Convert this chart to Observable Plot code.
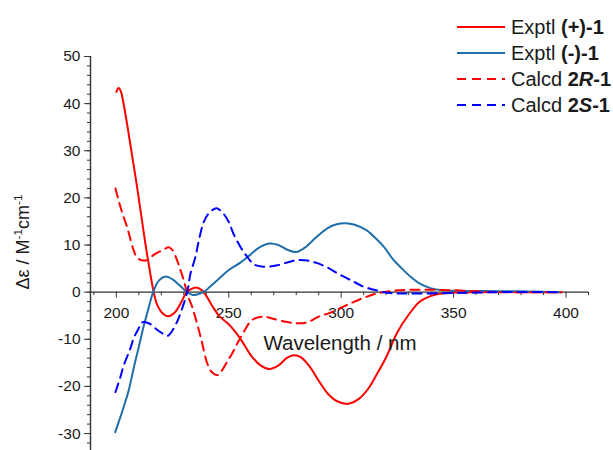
<!DOCTYPE html>
<html>
<head>
<meta charset="utf-8">
<script src="https://cdn.jsdelivr.net/npm/d3@7"></script>
<script src="https://cdn.jsdelivr.net/npm/@observablehq/plot@0.6"></script>
<style>
  body { margin: 0; background: #fff; }
  #wrap { position: relative; width: 613px; height: 450px; overflow: hidden; font-family: "Liberation Sans", Arial, sans-serif; color: #1a1a1a; }
  #legend { position: absolute; left: 456px; top: 14px; font-size: 20px; }
  .row { display: flex; align-items: center; height: 26px; white-space: nowrap; }
  .row svg { margin-right: 5px; }
  #ylab { position: absolute; left: 23px; top: 242px; transform: translate(-50%, -50%) rotate(-90deg); font-size: 18px; white-space: nowrap; }
  #ylab sup { font-size: 0.65em; vertical-align: 0.55em; line-height: 0; }
  #xlab { position: absolute; left: 340px; top: 343px; transform: translate(-50%, -50%); font-size: 20.5px; white-space: nowrap; }
</style>
</head>
<body>
<div id="wrap">
  <div id="chart"></div>
  <div id="legend"></div>
  <div id="ylab">Δε / M<sup>-1</sup>cm<sup>-1</sup></div>
  <div id="xlab">Wavelength / nm</div>
</div>
<script>
// ---- data ----
const xDomain = [188.5, 410];
const yDomain = [-33.6, 50];
const xMajor = [200, 250, 300, 350, 400];
const xMinor = [190, 210, 220, 230, 240, 260, 270, 280, 290, 310, 320, 330, 340, 360, 370, 380, 390, 410];
const yMajor = [-30, -20, -10, 0, 10, 20, 30, 40, 50];
const yMinor = d3.range(-32, 51, 2);

// Exptl (+)-1
const exptPlusX = [200, 201, 202, 203, 205, 207, 209, 211, 213, 215, 216.6, 218, 220, 223, 226, 229, 231, 233, 235.5, 238, 240, 243, 246, 250, 253, 256, 260, 264, 268, 272, 276, 279, 282, 286, 290, 294, 298, 303, 308, 312, 316, 320, 325, 330, 335, 340, 345, 350, 360, 380, 398];
const exptPlusY = [42.5, 43.3, 42.6, 40.5, 35, 29, 23, 16.5, 10, 4.2, 0, -2.5, -4.2, -5.1, -4.3, -2, -0.2, 0.6, 1.0, 0.4, -0.8, -3.2, -5.2, -6.8, -8.5, -10.5, -13.5, -15.5, -16.3, -15.6, -13.9, -13.4, -13.8, -15.8, -18.8, -21.5, -23.1, -23.7, -22.6, -20.5, -17.3, -13.8, -8.5, -4.8, -2.0, -0.8, -0.3, -0.1, 0, 0, 0];

// Exptl (-)-1
const exptMinusX = [199.5, 201.8, 203.5, 205.5, 208, 210, 212, 213.7, 216.6, 219, 222, 225, 228, 231, 234, 236, 239, 242, 246, 250, 255, 259, 263, 268, 272, 276, 280, 284, 289, 294, 298, 302, 306, 311, 315, 319, 323, 327, 331, 335, 340, 345, 350, 370, 390, 398];
const exptMinusY = [-29.7, -26.5, -24, -20.8, -15.5, -11.6, -7.5, -4.5, 0.3, 2.5, 3.3, 2.7, 1.5, 0.2, -0.6, -0.5, 0.1, 1.3, 3.0, 4.7, 6.2, 7.7, 9.3, 10.3, 10.0, 9.0, 8.5, 9.5, 11.7, 13.6, 14.4, 14.6, 14.3, 13.2, 11.6, 9.6, 7, 5, 3.2, 1.8, 0.8, 0.4, 0.3, 0.2, 0.1, 0];

// Calcd 2R-1
const calcRX = [199.6, 201, 202.5, 204.7, 206, 207.7, 209, 211, 213.7, 216.6, 220, 223.5, 225, 227, 228.5, 230, 232, 233.7, 236.7, 238.2, 240.4, 242.5, 245, 247, 249, 251.5, 253.8, 256.7, 260.4, 265.6, 269.4, 275.3, 280, 285, 290, 295, 300, 305, 310, 315, 320, 325, 330, 340, 350, 360, 370, 398];
const calcRY = [22, 19.5, 17, 13.9, 11.7, 8.9, 7.5, 6.8, 6.8, 7.9, 8.8, 9.5, 8.9, 6.8, 4.7, 2.5, -1, -3.1, -8.1, -10.9, -15.1, -17, -17.6, -16.6, -15, -13, -10.9, -8.4, -5.9, -5.2, -5.6, -6.3, -6.6, -6.4, -5.2, -4.4, -3.3, -2.2, -1.2, -0.4, 0.1, 0.4, 0.5, 0.5, 0.4, 0.2, 0, 0];

// Calcd 2S-1
const calcSX = [199.6, 201.8, 203.3, 206.2, 207.7, 209.9, 211.5, 214.4, 217.4, 220, 222.6, 224, 227, 228.5, 231.5, 233, 235.2, 236.7, 238.9, 241.1, 244.5, 247, 250, 252, 255.2, 258.2, 261.2, 265.6, 271.6, 276.7, 281, 285, 289, 294, 298.3, 302.7, 306, 310.2, 314.6, 318, 322, 330, 350, 360, 370, 398];
const calcSY = [-21.2, -18, -15.5, -12, -9.8, -7.7, -6.4, -6.6, -7.7, -8.6, -9.3, -8.8, -6.3, -4.5, 0, 4, 7.5, 11, 14.9, 16.7, 17.8, 17, 14.9, 12.5, 9.6, 7.5, 5.9, 5.4, 5.7, 6.4, 6.8, 6.7, 6.2, 5.2, 4.0, 2.9, 2.1, 1.1, 0.5, 0.1, -0.2, -0.3, -0.2, -0.1, 0, 0];

const seriesNames = ["Exptl (+)-1", "Exptl (-)-1", "Calcd 2R-1", "Calcd 2S-1"];
const seriesColors = ["#ff0000", "#1f6ea9", "#ff0000", "#0000ff"];
const seriesDash = [null, null, "9,6", "9,6"];
const legendHtml = [
  "Exptl <b>(+)-1</b>",
  "Exptl <b>(-)-1</b>",
  "Calcd <b>2<i>R</i>-1</b>",
  "Calcd <b>2<i>S</i>-1</b>"
];

// ---- build table ----
const seriesXs = [exptPlusX, exptMinusX, calcRX, calcSX];
const seriesYs = [exptPlusY, exptMinusY, calcRY, calcSY];
const tables = seriesXs.map((xs, k) => xs.map((x, i) => ({series: seriesNames[k], x, y: seriesYs[k][i]})));

const axisColor = "#333";

const lineMarks = tables.map((t, k) => Plot.line(t, {
  x: "x", y: "y",
  stroke: seriesColors[k],
  strokeWidth: 2,
  strokeDasharray: seriesDash[k] || undefined,
  curve: "catmull-rom"
}));

const chart = Plot.plot({
  width: 613,
  height: 450,
  marginLeft: 90,
  marginRight: 25,
  marginTop: 56,
  marginBottom: 0,
  x: {domain: xDomain, axis: null},
  y: {domain: yDomain, axis: null},
  style: {fontFamily: "Liberation Sans, Arial, sans-serif", fontSize: "15.5px", color: "#1a1a1a", background: "transparent"},
  marks: [
    // left axis line
    Plot.ruleX([xDomain[0]], {stroke: axisColor, strokeWidth: 1.4}),
    Plot.axisY({ticks: yMinor, tickSize: 3, text: null, label: null, stroke: axisColor}),
    Plot.axisY({ticks: yMajor, tickSize: 6, tickPadding: 4, tickFormat: d => String(d), label: null, stroke: axisColor, fontSize: 15.5}),
    // x axis along zero
    Plot.ruleY([0], {stroke: axisColor, strokeWidth: 1.4}),
    Plot.ruleX(xMinor, {x: d => d, y1: 0, y2: 0, insetBottom: -3.5, stroke: axisColor}),
    Plot.ruleX(xMajor, {x: d => d, y1: 0, y2: 0, insetBottom: -6, stroke: axisColor}),
    Plot.text(xMajor, {x: d => d, y: 0, dy: 21, text: d => String(d), fontSize: 15.5, fill: "#1a1a1a"}),
    ...lineMarks
  ]
});
document.getElementById("chart").appendChild(chart);

// ---- legend ----
const legend = document.getElementById("legend");
seriesNames.forEach((name, k) => {
  const row = document.createElement("div");
  row.className = "row";
  const dash = seriesDash[k] ? ` stroke-dasharray="${seriesDash[k]}"` : "";
  row.innerHTML = `<svg width="50" height="10"><line x1="1" x2="49" y1="5" y2="5" stroke="${seriesColors[k]}" stroke-width="2"${dash}/></svg><span>${legendHtml[k]}</span>`;
  legend.appendChild(row);
});
</script>
</body>
</html>
